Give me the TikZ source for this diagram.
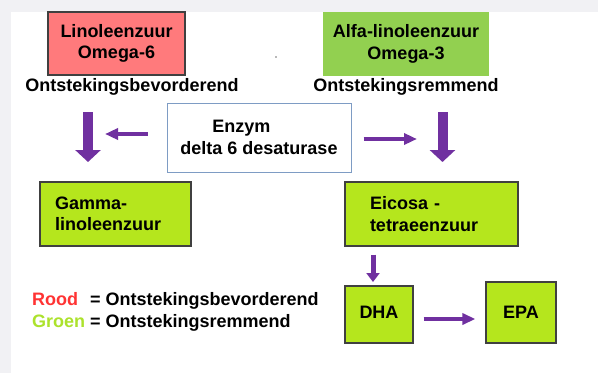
\documentclass[tikz,border=0pt]{standalone}
\usepackage{fontspec}
\setmainfont{Liberation Sans}
\usetikzlibrary{arrows.meta}
\definecolor{slidegrey}{RGB}{241,241,244}
\definecolor{roodbox}{RGB}{255,122,124}
\definecolor{groenbox}{RGB}{146,208,80}
\definecolor{limebox}{RGB}{181,230,29}
\definecolor{paars}{RGB}{112,48,160}
\definecolor{enzymrand}{RGB}{126,156,196}
\definecolor{roodtekst}{RGB}{255,51,51}
\definecolor{groentekst}{RGB}{172,226,44}
\tikzset{
  dia/.style={
    font=\bfseries\fontsize{18}{21.5}\selectfont
  },
  bronbox/.style={
    dia,
    align=center,
    inner sep=0pt
  },
  zuurbox/.style={
    dia,
    draw=black!75,
    line width=1.2pt,
    fill=limebox,
    align=left,
    inner ysep=0pt
  },
  grootpijl/.style={
    -{Triangle[length=12pt,width=25pt]},
    draw=paars,
    line width=10pt
  },
  kleinpijl/.style={
    -{Triangle[length=13pt,width=11pt]},
    draw=paars,
    line width=4pt
  },
  middelpijl/.style={
    -{Triangle[length=9pt,width=13pt]},
    draw=paars,
    line width=5pt
  }
}
\begin{document}
\begin{tikzpicture}[x=1pt,y=-1pt]
  \useasboundingbox (0,0) rectangle (598,373);
  \fill[white] (0,0) rectangle (598,373);
  \fill[slidegrey] (0,0) rectangle (598,12);
  \fill[slidegrey] (0,0) rectangle (11,373);
  \fill[black!55] (276,57) circle (0.9);

  % bronnen
  \node[bronbox, draw=black!75, line width=1.2pt, fill=roodbox,
        minimum width=137pt, minimum height=63pt] (lino) at (116.5,43.5)
        {Linoleenzuur\\Omega-6};
  \node[bronbox, fill=groenbox,
        minimum width=166pt, minimum height=64pt] (alfa) at (406,44)
        {Alfa-linoleenzuur\\Omega-3};
  \node[dia] (bev) at (132,87) {Ontstekingsbevorderend};
  \node[dia] (rem) at (406,87) {Ontstekingsremmend};

  % enzym
  \node[dia, draw=enzymrand, line width=1pt, fill=white, align=left,
        inner xsep=12pt, minimum width=184pt, minimum height=69pt]
        (enzym) at (259,137.5) {\hspace*{32pt}Enzym\\delta 6 desaturase};

  % producten
  \node[zuurbox, inner xsep=15pt, text width=121pt, minimum height=64pt]
        (gamma) at (115.5,214) {Gamma-\\linoleenzuur};
  \node[zuurbox, inner xsep=25pt, text width=123pt, minimum height=64pt]
        (eicosa) at (431.5,214) {Eicosa -\\tetraeenzuur};
  \node[zuurbox, align=center, inner xsep=0pt,
        minimum width=68pt, minimum height=57pt] (dha) at (379,314.5)
        {\raisebox{4.5pt}{DHA}};
  \node[zuurbox, align=center, inner xsep=0pt,
        minimum width=70pt, minimum height=61pt] (epa) at (521,312.5) {EPA};

  % pijlen
  \coordinate (linkstop) at (88,112);
  \coordinate (linksvoet) at (88,162);
  \coordinate (rechtstop) at (442.5,112);
  \coordinate (rechtsvoet) at (442.5,162);
  \coordinate (linksin) at (105,134);
  \coordinate (rechtsin) at (417,139);
  \coordinate (dhatop) at (373,282);
  \draw[grootpijl] (linkstop) -- (linksvoet);
  \draw[grootpijl] (rechtstop) -- (rechtsvoet);
  \draw[kleinpijl] ([xshift=-19pt,yshift=3.5pt]enzym.west) -- (linksin);
  \draw[kleinpijl] ([xshift=12pt,yshift=-1.5pt]enzym.east) -- (rechtsin);
  \draw[middelpijl] (eicosa.south -| dhatop) ++(0,8) -- (dhatop);
  \draw[kleinpijl,shorten <=10pt,shorten >=10pt]
    ([yshift=-4.5pt]dha.east) -- ([yshift=-4.5pt]dha.east -| epa.west);

  % Legenda
  \node[dia, anchor=west, align=left, inner xsep=0pt] (legenda) at (32,312)
    {\makebox[58pt][l]{\textcolor{roodtekst}{Rood}}= Ontstekingsbevorderend\\
     \makebox[58pt][l]{\textcolor{groentekst}{Groen}}= Ontstekingsremmend};
\end{tikzpicture}
\end{document}
